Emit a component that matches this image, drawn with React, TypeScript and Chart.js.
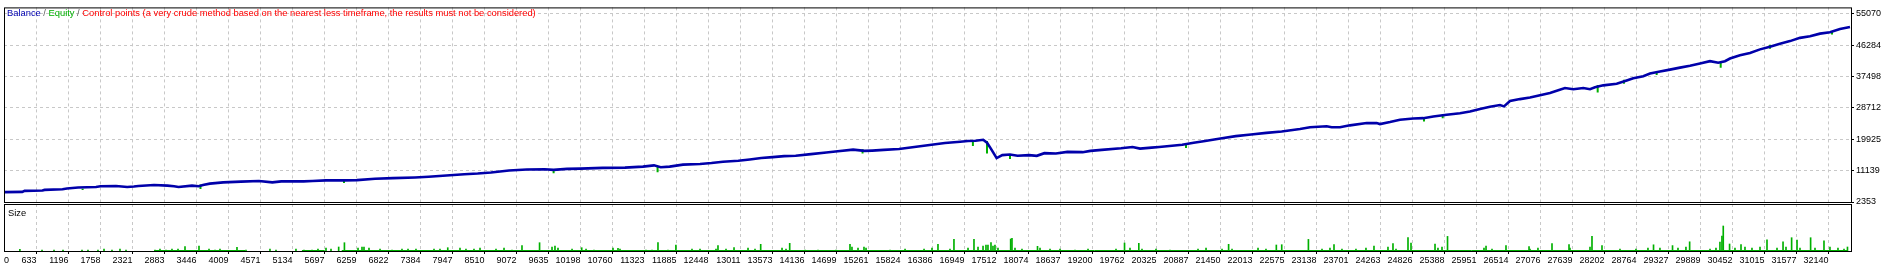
import React, { useEffect, useRef } from 'react';
import { Chart, registerables } from 'chart.js';

Chart.register(...registerables);

// ---- Data (trade number -> balance) ----
const balanceTrade = [70, 383, 424, 737, 775, 1090, 1169, 1364, 1679, 1757, 2031, 2228, 2346, 2425, 2699, 2935, 3051, 3131, 3367, 3485, 3560, 3680, 3916, 4229, 4545, 4779, 4937, 5329, 5486, 5723, 6036, 6268, 6585, 6899, 7288, 7527, 7840, 8155, 8390, 8624, 8941, 9254, 9566, 9725, 9960, 10196, 10588, 10980, 11295, 11490, 11608, 11764, 12000,
  12299, 12501, 12703, 12972, 13174, 13375, 13577, 13779, 13981, 14250, 14519, 14722, 14991, 15193, 15326, 15529, 15798, 16067, 16336, 16605, 16874, 17009, 17143, 17278, 17345, 17413, 17480, 17514, 17614, 17749, 17883, 18085, 18220, 18354, 18556, 18758, 19027, 19163, 19363, 19701, 19903, 20036, 20239, 20372, 20508, 20777, 20979, 21181, 21315, 21450, 21719, 21988, 22257, 22526,
  22848, 23024, 23317, 23405, 23551, 23727, 24021, 24196, 24254, 24430, 24606, 24840, 25016, 25192, 25427, 25661, 25837, 26013, 26189, 26364, 26435, 26540, 26716, 26892, 27068, 27243, 27389, 27507, 27653, 27829, 27947, 28035, 28180, 28416, 28592, 28708, 28884, 29002, 29177, 29353, 29529, 29705, 29881, 30057, 30202, 30320, 30408, 30584, 30760,
  30936, 31111, 31287, 31463, 31639, 31815, 31991, 32166, 32342, 32518];
const balanceValue = [5106, 5188, 5464, 5574, 5739, 5932, 6124, 6400, 6565, 6757, 6840, 6565, 6675, 6840, 7115, 6950, 6757, 6565, 6950, 6757, 7115, 7501, 7859, 8051, 8216, 7859, 8134, 8134, 8216, 8409, 8409, 8492, 8877, 9042, 9235, 9428, 9786, 10143, 10336, 10611, 11162, 11437, 11520, 11355, 11630, 11713, 11905, 11988, 12263, 12621, 12070, 12263, 12814,
  13006, 13282, 13639, 13915, 14273, 14658, 14933, 15209, 15291, 15759, 16200, 16585, 17025, 16668, 16750, 16943, 17218, 17769, 18319, 18870, 19228, 19420, 19503, 19778, 18952, 17301, 15566, 14658, 15484, 15649, 15291, 15484, 15291, 16034, 15924, 16392, 16310, 16668, 16943, 17411, 17769, 17301, 17576, 17769, 17961, 18402, 18952, 19420, 19778, 20164, 20797, 21265, 21705, 22091,
  22806, 23274, 23550, 23274, 23274, 23825, 24458, 24458, 24183, 24733, 25394, 25752, 25834, 26302, 26770, 27211, 27679, 28422, 29055, 29523, 29138, 30624, 31175, 31615, 32276, 32909, 33652, 34285, 33928, 34285, 33928, 34478, 35029, 35469, 36405, 37038, 37589, 38332, 38883, 39433, 39984, 40534, 41167, 41801, 41360, 41801, 42544, 43452, 44113,
  45104, 45847, 46673, 47416, 48325, 48793, 49508, 49894, 50802, 51353];

// Equity dips below the balance line
const equityDipTrade = [1444, 3516, 6040, 9725, 11553, 15157, 17097, 17345, 17749, 20844, 25028, 25357, 28082, 28544, 29119, 30245, 31112, 32202];
const equityDipBalance = [6070, 7226, 8547, 11438, 12401, 17131, 19422, 19422, 15567, 18871, 26166, 26855, 35114, 36628, 38693, 41253, 46401, 50118];
const equityDipValue = [5739, 6014, 7666, 10419, 10695, 15920, 18045, 15920, 14384, 17495, 24928, 25836, 32994, 35472, 37950, 39987, 45300, 49237];

// Size (lots) per trade: taller bars
const sizeTrade = [341, 3244, 3490, 4158, 5946, 6047, 6356, 7864, 9169, 9478, 9749, 10219, 10857, 11560, 11875, 12615, 12897, 13366, 13876, 14936, 15182, 16483, 16764, 17116, 17362, 17415, 17485, 17761, 17784, 18233, 19763, 20014, 21593, 22432, 22527, 22996, 23446, 24149, 24483, 24747, 24800, 25222, 25442, 26119, 26470, 26875, 27279, 27578, 27982, 28158, 29064, 29398, 29699, 30267, 30290, 30401, 30602, 31059, 31341, 31492, 31587, 31826, 32061, 32474];
const sizeLots = [0.17, 0.43, 0.5, 0.37, 0.4, 0.83, 0.4, 0.33, 0.53, 0.83, 0.5, 0.33, 0.27, 0.83, 0.6, 0.53, 0.33, 0.67, 0.77, 0.67, 0.4, 0.67, 1.17, 1.17, 0.6, 0.83, 0.6, 1.2, 1.27, 0.47, 0.8, 0.77, 0.67, 0.6, 0.63, 1.16, 0.65, 0.5, 0.75, 1.33, 0.8, 0.68, 1.46, 0.5, 0.54, 0.44, 0.75, 0.65, 1.46, 0.54, 0.62, 0.54, 0.92, 1.5, 2.5, 0.7, 0.65, 1.12, 0.92, 1.33, 1.09, 1.33, 1.02, 0.4];
// Size (lots) per trade: small bars
const sizeSmallTrade = [730, 941, 1099, 1433, 1538, 1714, 1820, 1960, 2101, 2207, 2716, 2804, 2910, 3015, 3121, 3666, 3772, 3859, 4316, 4738, 4844, 5195, 5336, 5477, 5582, 5723, 5811, 6286, 6391, 6479, 6673, 6884, 7059, 7165, 7305, 7622, 7727, 8079, 8184, 8325, 8431, 8712, 8853, 8993, 9697, 9802, 10049, 10295, 10435, 10769, 10892, 11349, 11455, 11736, 12158, 12299, 12580, 12756, 13143, 13266, 13741, 13811, 14145, 14374, 14690, 14971, 15077, 15218, 15640, 15904, 16238, 16378, 16694, 17011, 17187, 17275, 17327, 17450, 17538, 17837, 17960, 18277, 18453, 18629, 18892, 19121, 19613, 19859, 20070, 20316, 20562, 21055, 21196, 21477, 21653, 22110, 22250, 23235, 23375, 23586, 23832, 24008, 24395, 24536, 25274, 25345, 26083, 26224, 26892, 27032, 27595, 27947, 28474, 28755, 28966, 29177, 29494, 29634, 30057, 30162, 30232, 30496, 30672, 30795, 30936, 31235, 31393, 31639, 31903, 32166, 32307, 32413];
const sizeSmallLots = [0.1, 0.1, 0.1, 0.1, 0.1, 0.1, 0.2, 0.1, 0.2, 0.1, 0.1, 0.2, 0.1, 0.2, 0.2, 0.2, 0.1, 0.2, 0.1, 0.2, 0.1, 0.2, 0.1, 0.1, 0.2, 0.3, 0.2, 0.3, 0.4, 0.3, 0.2, 0.1, 0.2, 0.2, 0.2, 0.2, 0.2, 0.3, 0.2, 0.2, 0.3, 0.2, 0.3, 0.1, 0.4, 0.3, 0.2, 0.2, 0.1, 0.3, 0.2, 0.1, 0.1, 0.1, 0.2, 0.2, 0.2, 0.2, 0.3, 0.2, 0.3, 0.2, 0.1, 0.1, 0.1, 0.4, 0.3, 0.3, 0.1, 0.2, 0.2, 0.3, 0.2, 0.3, 0.4, 0.5, 0.6, 0.5, 0.3, 0.3, 0.2, 0.3, 0.2, 0.2, 0.1, 0.2, 0.2, 0.3, 0.2, 0.2, 0.1, 0.2, 0.3, 0.2, 0.2, 0.3, 0.2, 0.2, 0.3, 0.2, 0.2, 0.3, 0.4, 0.2, 0.3, 0.4, 0.3, 0.2, 0.2, 0.3, 0.3, 0.4, 0.2, 0.2, 0.3, 0.3, 0.3, 0.4, 0.2, 0.3, 0.9, 0.3, 0.4, 0.3, 0.4, 0.3, 0.4, 0.3, 0.3, 0.4, 0.3, 0.2];
const sizeBaseFrom = [2700, 5300, 6000];
const sizeBaseTo = [4300, 5700, 32480];
const sizeBaseLots = 0.05;

const xTickLabels = ['0', '633', '1196', '1758', '2321', '2883', '3446', '4009', '4571', '5134', '5697', '6259', '6822', '7384', '7947', '8510', '9072', '9635', '10198', '10760', '11323', '11885', '12448', '13011', '13573', '14136', '14699', '15261', '15824', '16386', '16949', '17512', '18074', '18637', '19200', '19762', '20325', '20887', '21450', '22013', '22575', '23138', '23701', '24263', '24826', '25388', '25951', '26514', '27076', '27639', '28202', '28764', '29327', '29889', '30452', '31015', '31577', '32140'];
const xZeroTickAt = 150; // where the "0" label of the trade axis sits
const yTickLabels = ['2353', '11139', '19925', '28712', '37498', '46284', '55070'];

const X_MIN = 61.6;
const X_MAX = 32536;
const Y_MIN = 2353;
const Y_MAX = 56859;
const SIZE_MAX = 4.7;

// ---- styles ----
const FONT = "'Liberation Sans', Arial, sans-serif";
const BLUE = '#0000aa';
const GREEN = '#00b000';
const GRID = '#c8c8c8';

const W = 1896;
const RIGHT_AXIS = 45;

const xTickValues = xTickLabels.map((l, i) => (i === 0 ? xZeroTickAt : Number(l)));
const yTickValues = yTickLabels.map(Number);

const framePlugin = {
  id: 'frame',
  afterDraw(chart: any) {
    const { ctx, chartArea: a } = chart;
    ctx.save();
    ctx.strokeStyle = '#000';
    ctx.lineWidth = 1;
    ctx.strokeRect(a.left + 0.5, a.top + 0.5, a.right - a.left, a.bottom - a.top);
    ctx.restore();
  },
};

const titlePlugin = {
  id: 'mtTitle',
  afterDraw(chart: any) {
    const ctx = chart.ctx;
    const parts: [string, string][] = [
      ['Balance', '#0000b0'],
      [' / ', '#606060'],
      ['Equity', '#00b000'],
      [' / ', '#606060'],
      ['Control points (a very crude method based on the nearest less timeframe, the results must not be considered)', '#ff0000'],
    ];
    ctx.save();
    ctx.font = `9.35px ${FONT}`;
    ctx.textBaseline = 'alphabetic';
    let x = 7;
    for (const [t, c] of parts) {
      ctx.fillStyle = c;
      ctx.fillText(t, x, 16);
      x += ctx.measureText(t).width;
    }
    ctx.restore();
  },
};

const sizeTitlePlugin = {
  id: 'sizeTitle',
  afterDraw(chart: any) {
    const ctx = chart.ctx;
    ctx.save();
    ctx.font = `9.35px ${FONT}`;
    ctx.fillStyle = '#000';
    ctx.fillText('Size', 8, 12);
    ctx.restore();
  },
};

const gridColor = (c: any) => (c.tick && c.tick.value === xZeroTickAt ? 'rgba(0,0,0,0)' : GRID);
const tickColor = (c: any) => (c.tick && c.tick.value === xZeroTickAt ? 'rgba(0,0,0,0)' : '#000');

export default function App() {
  const mainRef = useRef<HTMLCanvasElement>(null);
  const subRef = useRef<HTMLCanvasElement>(null);

  useEffect(() => {
    document.body.style.margin = '0';
    const balancePts = balanceTrade.map((x, i) => ({ x, y: balanceValue[i] }));
    const dipPts: any[] = [];
    equityDipTrade.forEach((x, i) => {
      dipPts.push({ x, y: equityDipBalance[i] });
      dipPts.push({ x, y: equityDipValue[i] });
      dipPts.push({ x, y: null });
    });

    const main = new Chart(mainRef.current!, {
      type: 'line',
      data: {
        datasets: [
          { label: 'Balance', data: balancePts, borderColor: BLUE, borderWidth: 2.6, pointRadius: 0, tension: 0, borderJoinStyle: 'miter' } as any,
          { label: 'Equity', data: dipPts, borderColor: GREEN, borderWidth: 2, pointRadius: 0, spanGaps: false },
        ],
      },
      options: {
        animation: false,
        responsive: false,
        events: [],
        layout: { padding: { left: 4, top: 4, bottom: 8, right: 0 } },
        plugins: { legend: { display: false }, tooltip: { enabled: false } },
        scales: {
          x: {
            type: 'linear',
            min: X_MIN,
            max: X_MAX,
            afterBuildTicks: (s: any) => { s.ticks = xTickValues.map((v) => ({ value: v })); },
            ticks: { display: false },
            grid: { color: gridColor, drawTicks: false, lineWidth: 1 },
            border: { display: false, dash: [3, 3] },
            afterFit: (s: any) => { s.height = 0; },
          },
          y: {
            type: 'linear',
            position: 'right',
            min: Y_MIN,
            max: Y_MAX,
            afterBuildTicks: (s: any) => { s.ticks = yTickValues.map((v) => ({ value: v })); },
            ticks: {
              callback: (_v: any, i: number) => yTickLabels[i],
              color: '#000',
              font: { family: FONT, size: 9 },
              padding: 2,
            },
            grid: { color: GRID, tickColor: '#000', tickLength: 3, drawTicks: true },
            border: { display: false, dash: [3, 3] },
            afterFit: (s: any) => { s.width = RIGHT_AXIS; },
          },
        },
      },
      plugins: [framePlugin, titlePlugin],
    });

    const sizePts = sizeTrade.map((x, i) => ({ x, y: sizeLots[i] }))
      .concat(sizeSmallTrade.map((x, i) => ({ x, y: sizeSmallLots[i] })));
    const basePts: any[] = [];
    sizeBaseFrom.forEach((f, i) => {
      basePts.push({ x: f, y: sizeBaseLots });
      basePts.push({ x: sizeBaseTo[i], y: sizeBaseLots });
      basePts.push({ x: sizeBaseTo[i], y: null });
    });

    const sub = new Chart(subRef.current!, {
      type: 'bar',
      data: {
        datasets: [
          { type: 'bar', label: 'Size', data: sizePts, backgroundColor: GREEN, barThickness: 1, grouped: false } as any,
          { type: 'line', label: 'SizeBase', data: basePts, borderColor: GREEN, borderWidth: 1, pointRadius: 0, spanGaps: false } as any,
        ],
      },
      options: {
        animation: false,
        responsive: false,
        events: [],
        layout: { padding: { left: 4, top: 0, bottom: 0, right: RIGHT_AXIS } },
        plugins: { legend: { display: false }, tooltip: { enabled: false } },
        scales: {
          x: {
            type: 'linear',
            min: X_MIN,
            max: X_MAX,
            offset: false,
            afterBuildTicks: (s: any) => { s.ticks = xTickValues.map((v) => ({ value: v })); },
            ticks: {
              autoSkip: false,
              maxRotation: 0,
              minRotation: 0,
              align: 'end',
              color: '#000',
              font: { family: FONT, size: 9 },
              padding: 1,
              callback: (_v: any, i: number) => xTickLabels[i],
            },
            grid: { color: gridColor, tickColor: tickColor, tickLength: 3, drawTicks: true, offset: false },
            border: { display: false, dash: [3, 3] },
            afterFit: (s: any) => { s.height = 17; },
          },
          y: { display: false, min: 0, max: SIZE_MAX },
        },
      },
      plugins: [framePlugin, sizeTitlePlugin],
    });

    return () => {
      main.destroy();
      sub.destroy();
    };
  }, []);

  return (
    <div style={{ position: 'fixed', left: 0, top: 0, width: W, height: 268, background: '#fff' }}>
      <canvas ref={mainRef} width={W} height={210} style={{ position: 'absolute', left: 0, top: 0, width: W, height: 210 }} />
      <canvas ref={subRef} width={W} height={64} style={{ position: 'absolute', left: 0, top: 204, width: W, height: 64 }} />
    </div>
  );
}
